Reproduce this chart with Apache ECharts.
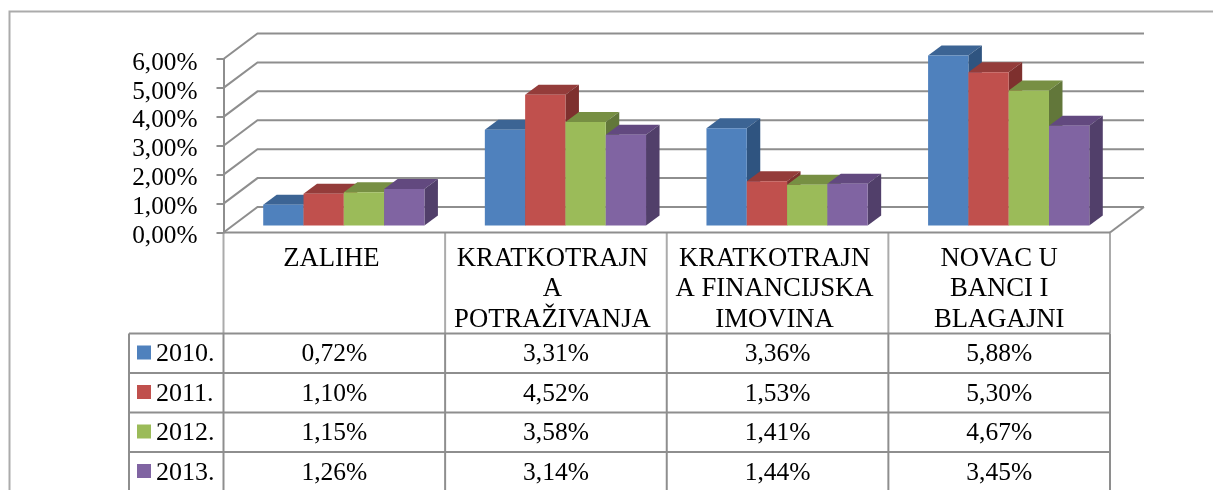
<!DOCTYPE html>
<html>
<head>
<meta charset="utf-8">
<title>Chart</title>
<script src="https://cdn.jsdelivr.net/npm/echarts@6/dist/echarts.min.js"></script>
<style>
    html, body { margin: 0; padding: 0; background: #fff; }
    #main { width: 1213px; height: 490px; }
</style>
</head>
<body>
<div id="main"></div>
<script>
const categories = [
    ['ZALIHE'],
    ['KRATKOTRAJN', 'A', 'POTRAŽIVANJA'],
    ['KRATKOTRAJN', 'A FINANCIJSKA', 'IMOVINA'],
    ['NOVAC U', 'BANCI I', 'BLAGAJNI']
];
const years = ['2010.', '2011.', '2012.', '2013.'];
const values2010 = [0.72, 3.31, 3.36, 5.88];
const values2011 = [1.10, 4.52, 1.53, 5.30];
const values2012 = [1.15, 3.58, 1.41, 4.67];
const values2013 = [1.26, 3.14, 1.44, 3.45];
const yTicks = [0, 1, 2, 3, 4, 5, 6];

const allValues = [values2010, values2011, values2012, values2013];
const frontColors = ['#4F81BD', '#C0504D', '#9BBB59', '#8064A2'];
const topColors = ['#3C6494', '#943C3A', '#778F43', '#62497F'];
const sideColors = ['#2F5480', '#7E302E', '#62773A', '#513F6A'];

const FONT = '"Liberation Serif", "Times New Roman", serif';
const LINE = '#8E8E8E';
const LINE_LIGHT = '#ABABAB';

// plot box
const X0 = 223.5, X1 = 1110, Y0 = 232.5, YTOP = 59;
// wall depth and bar depth
const WALL_DX = 34, WALL_DY = 25.5;
const BAR_DX = 13.5, BAR_DY = 10;
const BAR_SHIFT_X = 9.5, BAR_SHIFT_Y = 7;
const BAR_W = 40.3;

// table
const COL_W = (X1 - X0) / 4;
const LEG_X = 129;
const ROW_Y = [333.5, 373, 412.5, 452, 490];
// header text sits a bit left of centre in the first three columns
const HEADER_SHIFT = [-3, -3.5, -3, 0];

function pct(v) {
    return v.toFixed(2).replace('.', ',') + '%';
}

function renderWalls(params, api) {
    const v = api.value(0);
    const a = api.coord([0, v]);
    const lineStyle = { stroke: LINE, lineWidth: 2, fill: null };
    const y = a[1];
    const children = [{
        type: 'polyline',
        shape: { points: [[X0, y], [X0 + WALL_DX, y - WALL_DY], [X1 + WALL_DX, y - WALL_DY]] },
        style: lineStyle
    }];
    if (v === 0) {
        children.push({
            type: 'line',
            shape: { x1: X1, y1: y, x2: X1 + WALL_DX, y2: y - WALL_DY },
            style: lineStyle
        });
        // front edge of the floor
        children.push({
            type: 'line',
            shape: { x1: X0, y1: y, x2: X1, y2: y },
            style: lineStyle
        });
    }
    return { type: 'group', children };
}

function renderBar(params, api) {
    const s = params.seriesIndex - 1;
    const base = api.coord([api.value(0), 0]);
    const head = api.coord([api.value(0), api.value(1)]);
    const l = base[0] + BAR_SHIFT_X + (s - 2) * BAR_W;
    const r = l + BAR_W;
    const b = base[1] - BAR_SHIFT_Y;
    const t = head[1] - BAR_SHIFT_Y;
    return {
        type: 'group',
        children: [
            { type: 'polygon', shape: { points: [[l, t], [l + BAR_DX, t - BAR_DY], [r + BAR_DX, t - BAR_DY], [r, t]] }, style: { fill: topColors[s] } },
            { type: 'polygon', shape: { points: [[r, t], [r + BAR_DX, t - BAR_DY], [r + BAR_DX, b - BAR_DY], [r, b]] }, style: { fill: sideColors[s] } },
            { type: 'rect', shape: { x: l, y: t, width: BAR_W, height: b - t }, style: { fill: frontColors[s] } }
        ]
    };
}

function tableGraphics() {
    const out = [];
    const hline = (x1, x2, y, color) => out.push({ type: 'line', shape: { x1, y1: y, x2, y2: y }, style: { stroke: color, lineWidth: 2 } });
    const vline = (x, y1, y2, color) => out.push({ type: 'line', shape: { x1: x, y1, x2: x, y2 }, style: { stroke: color, lineWidth: 2 } });
    const label = (text, x, y, size, align) => out.push({
        type: 'text', x, y,
        style: { text, fill: '#000', font: size + 'px ' + FONT, textAlign: align || 'center', textVerticalAlign: 'middle' }
    });

    // outer frame
    out.push({ type: 'polyline', shape: { points: [[9.5, 490], [9.5, 11.5], [1213, 11.5]] }, style: { stroke: LINE_LIGHT, lineWidth: 2, fill: null } });

    // grid lines
    for (let i = 0; i <= 4; i++) {
        vline(X0 + i * COL_W, Y0, ROW_Y[0], LINE_LIGHT);
        vline(X0 + i * COL_W, ROW_Y[0], 490, LINE);
    }
    vline(LEG_X, ROW_Y[0], 490, LINE);
    for (let i = 0; i < 4; i++) {
        hline(LEG_X, X1, ROW_Y[i], LINE);
    }

    // header text
    categories.forEach((lines, c) => {
        lines.forEach((txt, j) => {
            label(txt, X0 + (c + 0.5) * COL_W + HEADER_SHIFT[c], 258.5 + j * 30.7, 26.7);
        });
    });

    // rows
    years.forEach((yr, s) => {
        const cy = ROW_Y[s] + 21;
        out.push({ type: 'rect', shape: { x: 137, y: ROW_Y[s] + 12, width: 14, height: 14 }, style: { fill: frontColors[s] } });
        label(yr, 156, cy, 26, 'left');
        allValues[s].forEach((v, c) => {
            label(pct(v), X0 + (c + 0.5) * COL_W, cy, 25.5);
        });
    });
    return out;
}

const chart = echarts.init(document.getElementById('main'));

const series = [{
    type: 'custom',
    renderItem: renderWalls,
    data: yTicks.map(v => [v]),
    encode: { y: 0 },
    clip: false,
    silent: true
}];
allValues.forEach((vals, s) => {
    series.push({
        name: years[s],
        type: 'custom',
        renderItem: renderBar,
        data: vals.map((v, c) => [c, v]),
        encode: { x: 0, y: 1 },
        clip: false
    });
});

chart.setOption({
    animation: false,
    backgroundColor: '#fff',
    grid: { left: X0, right: 1213 - X1, top: YTOP, bottom: 490 - Y0 },
    xAxis: {
        type: 'category',
        data: categories.map(c => c.join(' ')),
        axisLine: { show: false },
        axisTick: { show: false },
        axisLabel: { show: false }
    },
    yAxis: {
        type: 'value',
        min: 0,
        max: 6,
        interval: 1,
        axisLine: { show: true, lineStyle: { color: LINE, width: 2 } },
        axisTick: { show: true, length: 7, lineStyle: { color: LINE, width: 2 } },
        splitLine: { show: false },
        axisLabel: {
            margin: 26,
            color: '#000',
            fontFamily: FONT,
            fontSize: 25.3,
            verticalAlign: 'top',
            lineHeight: 8,
            formatter: v => pct(v)
        }
    },
    graphic: tableGraphics(),
    series
});
</script>
</body>
</html>
